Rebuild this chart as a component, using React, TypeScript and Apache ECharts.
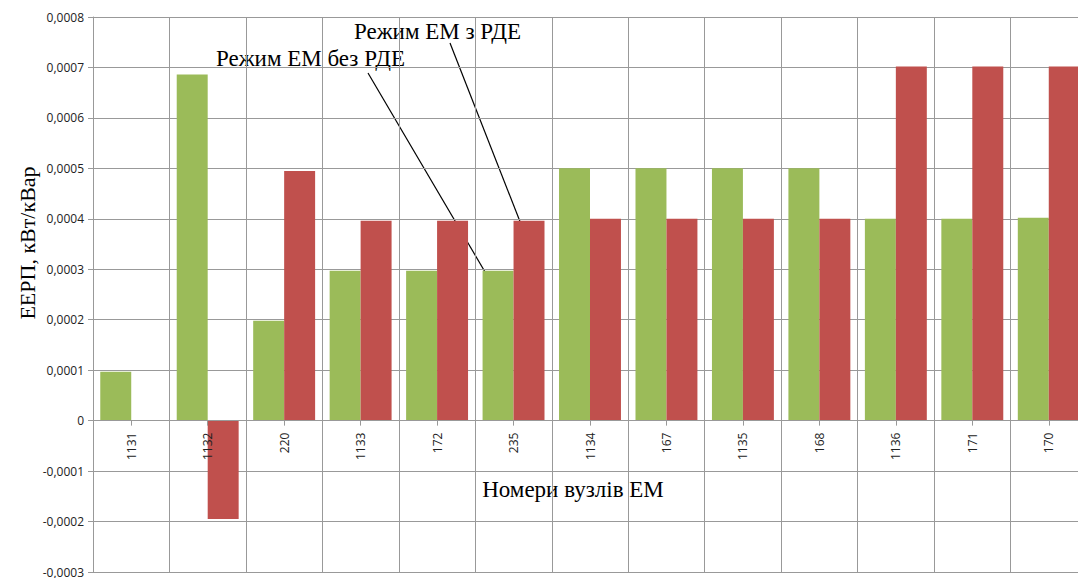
import React, { useEffect, useRef } from "react";
import * as echarts from "echarts";

const categories = ["1131", "1132", "220", "1133", "172", "235", "1134", "167", "1135", "168", "1136", "171", "170"];
const withoutRDE = [0.000097, 0.000686, 0.000198, 0.000297, 0.000297, 0.000297, 0.0005, 0.0005, 0.0005, 0.0005, 0.0004, 0.0004, 0.000402];
const withRDE = [null, -0.000195, 0.000495, 0.000396, 0.000396, 0.000396, 0.0004, 0.0004, 0.0004, 0.0004, 0.000702, 0.000702, 0.000702];
const seriesNames = ["Режим ЕМ без РДЕ", "Режим ЕМ з РДЕ"];
const yAxisTitle = "ЕЕРП, кВт/кВар";
const xAxisTitle = "Номери вузлів ЕМ";
const yMin = -0.0003;
const yMax = 0.0008;

const GRID = "#999999";
const SERIF = "'Liberation Serif', 'Times New Roman', serif";
const SANS = "'Open Sans', 'Liberation Sans', sans-serif";
const GRID_H = 555;

export default function App() {
  const ref = useRef<HTMLDivElement>(null);
  useEffect(() => {
    if (!ref.current) return;
    const chart = echarts.init(ref.current, null, { renderer: "svg" });
    // place the category axis on the zero line
    const zeroOffset = -GRID_H * (0 - yMin) / (yMax - yMin);
    chart.setOption({
      animation: false,
      backgroundColor: "#ffffff",
      grid: { left: 93, top: 17, width: 994, height: GRID_H, containLabel: false, outerBoundsMode: "none" },
      xAxis: [
        {
          type: "category",
          data: categories,
          position: "bottom",
          offset: zeroOffset,
          z: 5,
          axisLine: { onZero: false, lineStyle: { color: GRID, width: 1 } },
          axisTick: { show: true, alignWithLabel: true, length: 5, lineStyle: { color: GRID } },
          axisLabel: { rotate: 90, margin: 12, fontSize: 12, color: "#222", fontFamily: SANS },
          splitLine: { show: true, interval: 0, lineStyle: { color: GRID, width: 1 } },
        },
      ],
      yAxis: {
        type: "value",
        min: yMin,
        max: yMax,
        interval: 0.0001,
        axisLine: { show: true, lineStyle: { color: GRID, width: 1 } },
        axisTick: { show: true, length: 5, lineStyle: { color: GRID } },
        axisLabel: {
          margin: 9,
          fontSize: 12,
          color: "#222",
          fontFamily: SANS,
          formatter: (v: number) => (Math.abs(v) < 1e-12 ? "0" : v.toFixed(4).replace(".", ",")),
        },
        splitLine: { show: true, lineStyle: { color: GRID, width: 1 } },
      },
      series: [
        {
          name: seriesNames[0],
          type: "bar",
          data: withoutRDE,
          itemStyle: { color: "#9BBB59" },
          barGap: "0%",
          barCategoryGap: "19%",
          z: 2,
        },
        {
          name: seriesNames[1],
          type: "bar",
          data: withRDE,
          itemStyle: { color: "#C0504D" },
          barGap: "0%",
          barCategoryGap: "19%",
          z: 2,
        },
      ],
      graphic: [
        {
          type: "text",
          x: 27,
          y: 243,
          rotation: Math.PI / 2,
          style: { text: yAxisTitle, font: `22px ${SERIF}`, fill: "#000", align: "center", verticalAlign: "middle" },
        },
        { type: "rect", shape: { x: 478, y: 474, width: 192, height: 29 }, style: { fill: "#fff" } },
        {
          type: "text",
          x: 573,
          y: 489,
          style: { text: xAxisTitle, font: `23px ${SERIF}`, fill: "#000", align: "center", verticalAlign: "middle" },
        },
        {
          type: "text",
          x: 354,
          y: 31,
          style: { text: seriesNames[1], font: `23px ${SERIF}`, fill: "#000", align: "left", verticalAlign: "middle" },
        },
        {
          type: "text",
          x: 216,
          y: 58,
          style: { text: seriesNames[0], font: `23px ${SERIF}`, fill: "#000", align: "left", verticalAlign: "middle" },
        },
        { type: "line", shape: { x1: 450, y1: 43, x2: 528, y2: 242 }, style: { stroke: "#000", lineWidth: 1.2 } },
        { type: "line", shape: { x1: 368, y1: 73, x2: 498, y2: 294 }, style: { stroke: "#000", lineWidth: 1.2 } },
      ],
    });
    return () => chart.dispose();
  }, []);
  return <div ref={ref} style={{ position: "absolute", left: 0, top: 0, width: 1078, height: 578 }} />;
}
